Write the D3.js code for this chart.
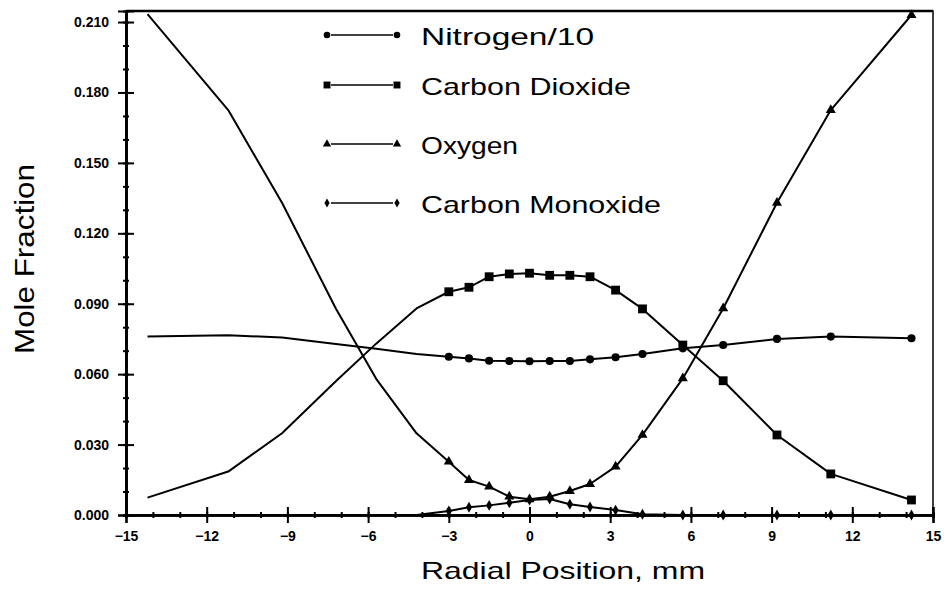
<!DOCTYPE html>
<html>
<head>
<meta charset="utf-8">
<script src="https://cdn.jsdelivr.net/npm/d3@7"></script>
<style>
  body { margin: 0; background: #fff; }
  svg { display: block; }
  .tick text { font-family: "Liberation Sans", Arial, sans-serif; font-weight: bold; font-size: 14px; fill: #000; }
  .title { font-family: "Liberation Sans", Arial, sans-serif; fill: #000; }
</style>
</head>
<body>
<svg id="vis"></svg>
<script>
const WIDTH = 946;
const HEIGHT = 589;

const margin = { top: 11, right: 11, bottom: 74, left: 126 };

// measured points (markers drawn)
const radialPos = [-3, -2.25, -1.5, -0.75, 0, 0.75, 1.5, 2.25, 3.2, 4.2, 5.7, 7.2, 9.2, 11.2, 14.2];
const nitrogen10 = [0.0674, 0.0667, 0.0657, 0.0656, 0.0655, 0.0656, 0.0656, 0.0663, 0.0672, 0.0686, 0.0710, 0.0724, 0.0750, 0.0760, 0.0753];
const carbonDioxide = [0.0951, 0.0970, 0.1015, 0.1027, 0.1030, 0.1021, 0.1021, 0.1015, 0.0958, 0.0878, 0.0724, 0.0572, 0.0341, 0.0175, 0.0064];
const oxygen = [0.0227, 0.0149, 0.0121, 0.0078, 0.0067, 0.0078, 0.0102, 0.0132, 0.0206, 0.0341, 0.0582, 0.0880, 0.1330, 0.1725, 0.2130];
const carbonMonoxide = [0.0017, 0.0033, 0.0041, 0.0052, 0.0064, 0.0068, 0.0046, 0.0034, 0.0021, 0.0003, 0, 0, 0, 0, 0];

// left side, line only
const leftPos = [-14.2, -11.2, -9.2, -7.2, -5.7, -4.2, -3];
const nitrogen10Left = [0.0760, 0.0766, 0.0756, 0.0728, 0.0708, 0.0686, 0.0674];
const carbonDioxideLeft = [0.0074, 0.0185, 0.0348, 0.0570, 0.0730, 0.0880, 0.0951];
const oxygenLeft = [0.2134, 0.1725, 0.1330, 0.0880, 0.0580, 0.0348, 0.0227];
const carbonMonoxideLeft = [0, 0, 0, 0, 0, 0, 0.0017];

const xTicks = [-15, -12, -9, -6, -3, 0, 3, 6, 9, 12, 15];
const yTicks = [0, 0.03, 0.06, 0.09, 0.12, 0.15, 0.18, 0.21];

const legendNames = ["Nitrogen/10", "Carbon Dioxide", "Oxygen", "Carbon Monoxide"];
const legendRows = [45, 95, 154, 213];
const legendWidths = [173, 210, 97, 240];

const SVG = d3.select('#vis').attr("width", WIDTH).attr("height", HEIGHT);

const x = d3.scaleLinear().domain([-15, 15]).range([margin.left, WIDTH - margin.right - 2]);
const y = d3.scaleLinear().domain([0, 0.2147]).range([HEIGHT - margin.bottom, margin.top]);

const series = [
  { name: legendNames[0], vals: nitrogen10, left: nitrogen10Left, sym: d3.symbolCircle, size: 52, lsize: 34 },
  { name: legendNames[1], vals: carbonDioxide, left: carbonDioxideLeft, sym: d3.symbolSquare, size: 78, lsize: 48 },
  { name: legendNames[2], vals: oxygen, left: oxygenLeft, sym: d3.symbolTriangle, size: 44, lsize: 30 },
  { name: legendNames[3], vals: carbonMonoxide, left: carbonMonoxideLeft, sym: d3.symbolDiamond, size: 34, lsize: 24 }
];

// frame
SVG.append("rect")
  .attr("x", x(-15)).attr("y", y(0.2147))
  .attr("width", x(15) - x(-15)).attr("height", y(0) - y(0.2147))
  .attr("fill", "none").attr("stroke", "#000").attr("stroke-width", 1.5);
SVG.append("line")
  .attr("x1", x(-15)).attr("x2", x(15)).attr("y1", y(0.2147)).attr("y2", y(0.2147))
  .attr("stroke", "#000").attr("stroke-width", 2.5);

// axes: major ticks cross the axis, minor ticks too
const yMinor = d3.range(0, 0.2101, 0.01);
const xMinor = d3.range(-15, 15.01, 1);

const gy = SVG.append("g").attr("transform", `translate(${x(-15)},0)`);
gy.append("g").call(d3.axisLeft(y).tickValues(yMinor).tickSize(3).tickFormat(""));
gy.append("g").call(d3.axisRight(y).tickValues(yMinor).tickSize(3).tickFormat(""));
gy.append("g").call(d3.axisRight(y).tickValues(yTicks).tickSize(8).tickFormat(""));
gy.append("g").call(d3.axisLeft(y).tickValues(yTicks).tickSize(8).tickPadding(9).tickFormat(d3.format(".3f")));

const gx = SVG.append("g").attr("transform", `translate(0,${y(0)})`);
gx.append("g").call(d3.axisBottom(x).tickValues(xMinor).tickSize(3).tickFormat(""));
gx.append("g").call(d3.axisTop(x).tickValues(xMinor).tickSize(3).tickFormat(""));
gx.append("g").call(d3.axisTop(x).tickValues(xTicks).tickSize(8).tickFormat(""));
gx.append("g").call(d3.axisBottom(x).tickValues(xTicks).tickSize(8).tickPadding(8).tickFormat(d3.format("d")));

SVG.selectAll(".domain").attr("stroke", "#000").attr("stroke-width", 2.2);
SVG.selectAll(".tick line").attr("stroke", "#000").attr("stroke-width", 2);

// lines
const line = d3.line().x((d) => x(d[0])).y((d) => y(d[1]));
const plot = SVG.append("g");

series.forEach(function(s) {
  const pts = leftPos.map((p, i) => [p, s.left[i]])
    .concat(radialPos.slice(1).map((p, i) => [p, s.vals[i + 1]]));
  plot.append("path")
    .attr("d", line(pts))
    .attr("fill", "none").attr("stroke", "#000").attr("stroke-width", 2)
    .attr("stroke-linejoin", "round");
});

series.forEach(function(s) {
  plot.selectAll(null)
    .data(radialPos.map((p, i) => [p, s.vals[i]]))
    .enter()
    .append("path")
    .attr("transform", (d) => `translate(${x(d[0])},${y(d[1])})`)
    .attr("d", d3.symbol().type(s.sym).size(s.size))
    .attr("fill", "#000");
});

// legend
const legend = SVG.append("g");
series.forEach(function(s, i) {
  const cy = legendRows[i] - 10;
  legend.append("line")
    .attr("x1", 331).attr("x2", 393).attr("y1", cy).attr("y2", cy)
    .attr("stroke", "#000").attr("stroke-width", 1.5);
  [327, 397].forEach(function(cx) {
    legend.append("path")
      .attr("transform", `translate(${cx},${cy})`)
      .attr("d", d3.symbol().type(s.sym).size(s.lsize))
      .attr("fill", "#000");
  });
  legend.append("text")
    .attr("class", "title")
    .attr("x", 421).attr("y", legendRows[i])
    .attr("font-size", 24)
    .attr("textLength", legendWidths[i]).attr("lengthAdjust", "spacingAndGlyphs")
    .text(s.name);
});

// axis titles
SVG.append("text")
  .attr("class", "title")
  .attr("x", 421).attr("y", 579)
  .attr("font-size", 24)
  .attr("textLength", 284).attr("lengthAdjust", "spacingAndGlyphs")
  .text("Radial Position, mm");

SVG.append("text")
  .attr("class", "title")
  .attr("transform", "translate(34,354) rotate(-90)")
  .attr("font-size", 28)
  .attr("textLength", 190).attr("lengthAdjust", "spacingAndGlyphs")
  .text("Mole Fraction");
</script>
</body>
</html>
